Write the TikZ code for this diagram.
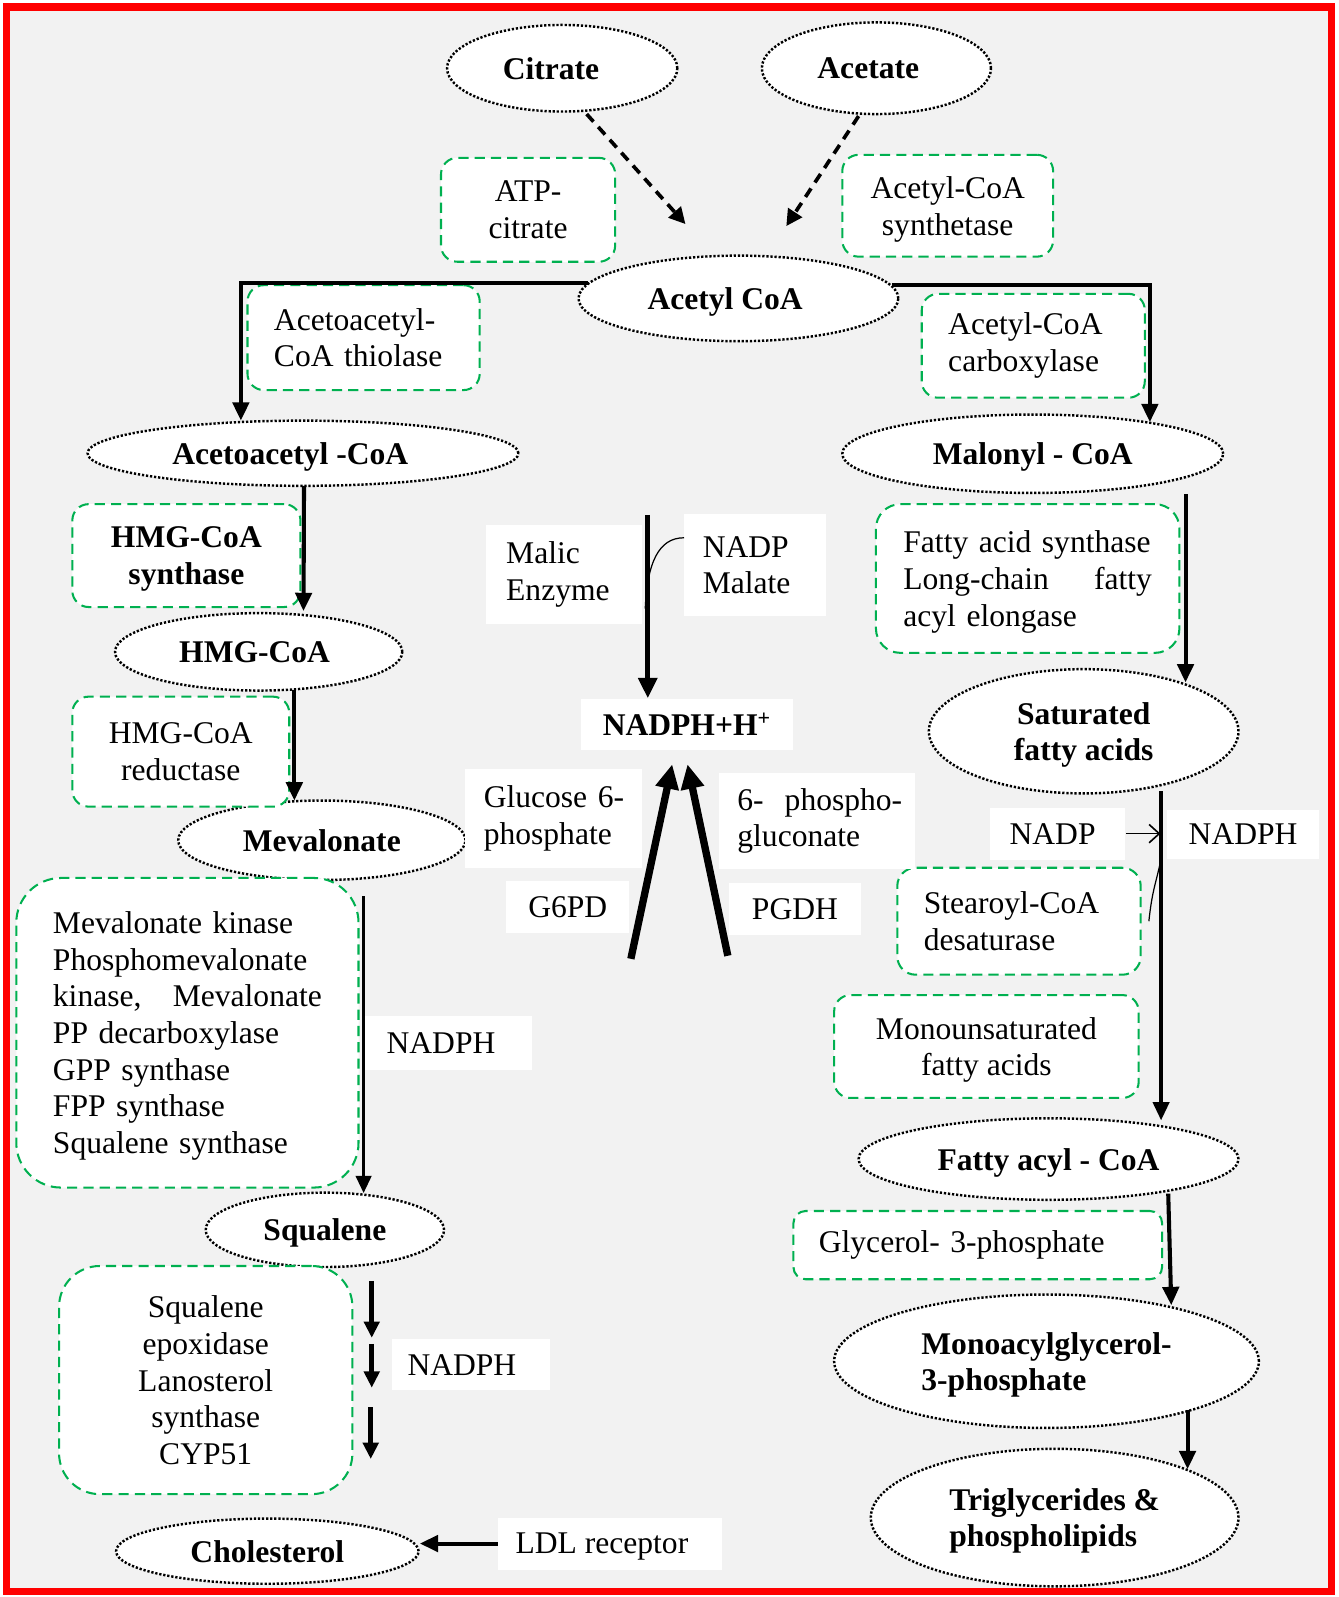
\documentclass[tikz,border=0pt]{standalone}
\usepackage{fontspec}
\setmainfont{Liberation Serif}
\usetikzlibrary{shapes.geometric,arrows.meta,calc}
\definecolor{bggray}{HTML}{F2F2F2}
\definecolor{gdash}{HTML}{00B050}
\begin{document}
\begin{tikzpicture}[x=0.5pt,y=-0.5pt,
  every node/.style={font=\fontsize{15.5pt}{18pt}\selectfont, inner sep=0pt},
  ell/.style={ellipse, draw=black, fill=white, line width=1.2pt, dash pattern=on 1.1pt off 0.9pt,
    font=\fontsize{15.5pt}{17.5pt}\selectfont\bfseries, align=center, inner sep=0pt, text depth=0pt},
  gbox/.style={draw=gdash, fill=white, rounded corners=8pt, line width=1pt, dash pattern=on 5pt off 3pt},
  gboxc/.style={gbox, align=center, text depth=0pt},
  wbox/.style={fill=white},
  wboxc/.style={fill=white, text depth=0pt},
  arr/.style={line width=2pt, -{Triangle[length=9pt,width=8pt]}},
  sarr/.style={line width=2.4pt, -{Triangle[length=8pt,width=7.5pt]}},
  darr/.style={line width=1.8pt, dash pattern=on 5pt off 3.5pt, -{Triangle[length=8pt,width=8pt]}},
  bigarr/.style={line width=3.6pt, -{Triangle[length=12pt,width=11pt]}},
  thinline/.style={line width=0.6pt},
]
\useasboundingbox (0,0) rectangle (1314,1568);
\fill[white] (0,0) rectangle (1314,1568);
\fill[red] (3,3) rectangle (1311,1566);
\fill[bggray] (10,11) rectangle (1304,1559);

% ---------- ellipses ----------
\node[ell, minimum width=113pt, minimum height=42.5pt] (citrate) at (552,67) {\kern-11pt Citrate};
\node[ell, minimum width=112.5pt, minimum height=45pt] (acetate) at (860.5,67) {\kern-8pt Acetate};
\node[ell, minimum width=157pt, minimum height=42pt] (acetyl) at (725,293) {\kern-13pt Acetyl CoA};
\node[ell, minimum width=211.5pt, minimum height=32pt] (acetoacetyl) at (297.5,445) {\kern-12.5pt Acetoacetyl -CoA};
\node[ell, minimum width=187pt, minimum height=38.5pt] (malonyl) at (1014,445.5) {Malonyl - CoA};
\node[ell, minimum width=141pt, minimum height=38pt] (hmg) at (254,640) {\kern-4pt HMG-CoA};
\node[ell, minimum width=141pt, minimum height=39pt] (mev) at (316,825) {Mevalonate};
\node[ell, minimum width=117pt, minimum height=36.5pt] (sq) at (319,1207.5) {Squalene};
\node[ell, minimum width=148.5pt, minimum height=32pt] (chol) at (262.5,1523) {Cholesterol};
\node[ell, minimum width=152pt, minimum height=61pt] (sat) at (1064,718) {Saturated\\fatty acids};
\node[ell, minimum width=186.5pt, minimum height=40pt] (fac) at (1029.5,1138) {Fatty acyl - CoA};
\node[ell, minimum width=208.5pt, minimum height=65.5pt, align=left] (mono) at (1027.5,1336.5) {Monoacylglycerol-\\3-phosphate};
\node[ell, minimum width=180.5pt, minimum height=67.5pt, align=left] (trig) at (1035.5,1490) {Triglycerides \&\\phospholipids};

% ---------- green enzyme boxes ----------
\node[gboxc, minimum width=85.5pt, minimum height=51pt] (atp) at (518.5,206) {ATP-\\citrate};
\node[gboxc, minimum width=103.5pt, minimum height=50pt] (acs) at (930.5,202) {Acetyl-CoA\\synthetase};
\node[gbox, minimum width=114pt, minimum height=51.5pt, text width=88pt, align=left] (thio) at (357,331.5) {Acetoacetyl-\\\mbox{CoA thiolase}};
\node[gbox, minimum width=109.5pt, minimum height=51pt, text width=83.5pt, align=left] (acc) at (1014.5,339.5) {Acetyl-CoA\\carboxylase};
\node[gboxc, minimum width=112pt, minimum height=50.5pt, font=\fontsize{15.5pt}{18pt}\selectfont\bfseries] (hmgs) at (183,545.5) {HMG-CoA\\synthase};
\node[gboxc, minimum width=106.5pt, minimum height=54pt] (hmgr) at (177.5,738) {HMG-CoA\\reductase};
\node[gbox, rounded corners=22pt, minimum width=168pt, minimum height=152pt, text width=132pt, align=left] (mevk) at (184,1014)
  {\rule{0pt}{14pt}\mbox{Mevalonate kinase}\\Phosphomevalonate\\\makebox[132pt]{kinase,\hfill Mevalonate}\\\mbox{PP decarboxylase}\\\mbox{GPP synthase}\\\mbox{FPP synthase}\\\mbox{Squalene synthase}};
\node[gboxc, rounded corners=20pt, minimum width=144pt, minimum height=112pt] (sqe) at (202,1355)
  {Squalene\\epoxidase\\Lanosterol\\synthase\\CYP51};
\node[gbox, rounded corners=12pt, minimum width=149pt, minimum height=73pt, text width=122pt, align=left] (fas) at (1009,568)
  {\rule{0pt}{14pt}\mbox{Fatty acid synthase}\\\makebox[122pt]{Long-chain\hfill fatty}\\\mbox{acyl elongase}};
\node[gbox, rounded corners=9pt, minimum width=119.5pt, minimum height=52.5pt, text width=93.5pt, align=left] (scd) at (1000.5,904.5) {Stearoyl-CoA\\desaturase};
\node[gboxc, minimum width=149.5pt, minimum height=50.5pt] (mufa) at (968.5,1027.5) {Monounsaturated\\fatty acids};
\node[gbox, rounded corners=6pt, minimum width=181pt, minimum height=33.5pt, text width=156pt, align=left] (g3p) at (960,1222.5) {\mbox{Glycerol- 3-phosphate}};

% ---------- white label boxes ----------
\node[wbox, minimum width=76.5pt, minimum height=49pt, text width=56.5pt, align=left] (malic) at (553.5,564) {Malic\\Enzyme};
\node[wbox, minimum width=69.5pt, minimum height=50pt, text width=51.5pt, align=left] (nadpm) at (741.5,555) {NADP\\Malate};
\node[wboxc, minimum width=104.5pt, minimum height=25pt, font=\fontsize{15.5pt}{18pt}\selectfont\bfseries] (nadphh) at (674.5,711) {NADPH+H\textsuperscript{+}};
\node[wbox, minimum width=86.5pt, minimum height=48.5pt, text width=68.5pt, align=left] (g6p) at (543.5,803.5) {\mbox{Glucose 6-}\\phosphate};
\node[wbox, minimum width=96pt, minimum height=47.5pt, text width=78pt, align=left] (pg) at (802,806) {\mbox{6-\ \ phospho-}\\gluconate};
\node[wboxc, minimum width=60.5pt, minimum height=25.5pt] (g6pd) at (557.5,890.5) {G6PD};
\node[wboxc, minimum width=64.5pt, minimum height=25.5pt] (pgdh) at (780.5,892.5) {PGDH};
\node[wboxc, minimum width=66.5pt, minimum height=25.5pt] (nadpr) at (1038.5,818.5) {\kern-5pt NADP};
\node[wboxc, minimum width=74.5pt, minimum height=24pt] (nadphr) at (1220.5,819) {NADPH};
\node[wboxc, minimum width=83pt, minimum height=26.5pt] (nadph1) at (439,1024.5) {\kern-6pt NADPH};
\node[wboxc, minimum width=77.5pt, minimum height=25pt] (nadph2) at (462.5,1340) {\kern-9pt NADPH};
\node[wboxc, minimum width=110pt, minimum height=25.5pt] (ldl) at (599,1515.5) {\kern-8pt LDL receptor};

% ---------- connectors ----------
\draw[darr] ($(citrate.center)+(24,45)$) -- ($(acetyl.center)+(-52,-73)$);
\draw[darr] ($(acetate.center)+(-17.5,47)$) -- ($(acetyl.center)+(47,-71)$);

\draw[arr] (acetyl.174) -| ($(acetoacetyl.center)+(-61,-32)$);
\draw[arr] (acetyl.5) -| ($(malonyl.center)+(115,-31)$);

\draw[arr] ($(acetoacetyl.center)+(1,32)$) -- ($(hmg.center)+(44,-40)$);
\draw[arr] ($(hmg.center)+(35,37)$) -- ($(mev.center)+(-27,-39)$);
\draw[line width=1.7pt, -{Triangle[length=8.5pt,width=7.5pt]}] ($(mev.center)+(41,55)$) -- ($(sq.center)+(38,-36)$);

\draw[sarr] ($(sq.center)+(46,50)$) -- ++(0,56);
\draw[sarr] ($(sq.center)+(46,112)$) -- ++(0,43);
\draw[sarr] ($(sq.center)+(45,174)$) -- ++(0,51);

\draw[arr] (ldl.west) -- (ldl.west -| chol.east);

\draw[arr] ($(malonyl.center)+(150,40)$) -- ($(sat.center)+(100,-48)$);
\draw[line width=1.7pt, -{Triangle[length=9pt,width=8pt]}] ($(sat.center)+(76,59)$) -- ($(fac.center)+(110.5,-38)$);
\draw[line width=0.8pt, -{Straight Barb[length=5pt,width=9pt]}] (nadpr.east) -- ($(nadpr.east)+(34,0)$);
\draw[thinline] ($(sat.center)+(75,130)$) .. controls +(-5,22) and +(3,-28) .. ($(scd.east)+(7,0)$);

\draw[arr] ($(fac.center)+(117.5,34)$) -- ($(mono.center)+(122.5,-55)$);
\draw[arr] ($(mono.center)+(138.5,48)$) -- ($(trig.center)+(130.5,-47.5)$);

\draw[line width=2.6pt, -{Triangle[length=10pt,width=9pt]}] ($(nadphh.north)+(-38.5,-180)$) -- ($(nadphh.north)+(-38.5,0)$);
\draw[thinline] ($(nadpm.west)+(0,-27)$) .. controls +(-25,0) and +(2,-45) .. ($(nadphh.north)+(-41,-88)$);

\draw[bigarr] ($(g6pd.south east)+(1,25)$) -- ($(nadphh.south)+(-14.5,14)$);
\draw[bigarr] ($(pgdh.south west)+(-1,20)$) -- ($(nadphh.south)+(0.5,14)$);
\end{tikzpicture}
\end{document}
